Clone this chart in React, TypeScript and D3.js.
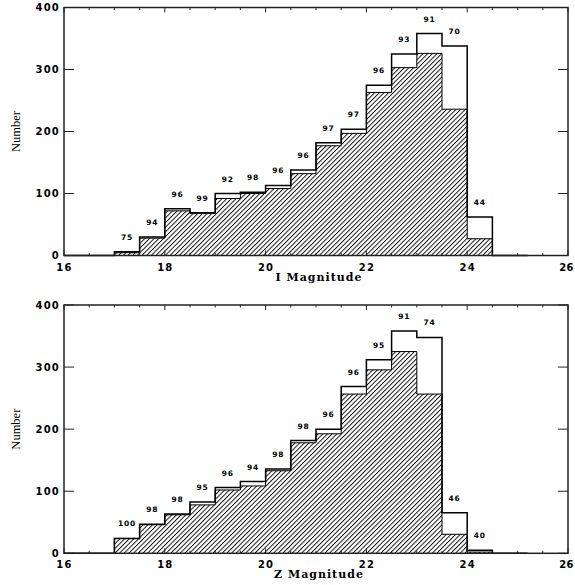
import React from "react";
import * as d3 from "d3";

const binStarts = [17, 17.5, 18, 18.5, 19, 19.5, 20, 20.5, 21, 21.5, 22, 22.5, 23, 23.5, 24];
const binWidth = 0.5;

const iTotal = [6, 30, 75.5, 69, 100, 102, 113, 138, 182, 203.5, 274.5, 325, 358, 338, 62];
const iDetected = [4.5, 28, 72, 68, 92, 100, 108, 132, 177, 197, 263, 303, 326, 236, 27];
const iLabels = ["75", "94", "96", "99", "92", "98", "96", "96", "97", "97", "96", "93", "91", "70", "44"];

const zTotal = [24, 47, 63.4, 82.7, 106, 115.5, 136, 181.6, 200, 268.7, 311.8, 358, 347.8, 65.5, 5];
const zDetected = [24, 46, 62, 78, 102, 108.5, 133, 178, 192.5, 256.5, 295.5, 325, 256.5, 30.6, 2];
const zLabels = ["100", "98", "98", "95", "96", "94", "98", "98", "96", "96", "95", "91", "74", "46", "40"];

const xTicks = [16, 18, 20, 22, 24, 26];
const xMinorTicks = d3.range(16, 26.01, 0.5);
const yTicks = [0, 100, 200, 300, 400];

const X0 = 64;
const X1 = 568;

type PanelProps = {
  yBottom: number;
  yTop: number;
  total: number[];
  detected: number[];
  labels: string[];
  title: string;
  patternId: string;
};

function Panel({ yBottom, yTop, total, detected, labels, title, patternId }: PanelProps) {
  const x = d3.scaleLinear().domain([16, 26]).range([X0, X1]);
  const y = d3.scaleLinear().domain([0, 400]).range([yBottom, yTop]);

  const outerPts: [number, number][] = [[16, 0], ...binStarts.map((b, i) => [b, total[i]] as [number, number]), [24.5, 0], [25.2, 0]];
  const innerPts: [number, number][] = [[17, 0], ...binStarts.map((b, i) => [b, detected[i]] as [number, number]), [24.5, 0]];

  const line = d3
    .line<[number, number]>()
    .x((d) => x(d[0]))
    .y((d) => y(d[1]))
    .curve(d3.curveStepAfter);
  const area = d3
    .area<[number, number]>()
    .x((d) => x(d[0]))
    .y0(y(0))
    .y1((d) => y(d[1]))
    .curve(d3.curveStepAfter);

  const plotH = yBottom - yTop;
  const plotW = X1 - X0;
  const xMajLen = 0.02 * plotH;
  const yMajLen = 0.02 * plotW;

  return (
    <g>
      <defs>
        <pattern id={patternId} patternUnits="userSpaceOnUse" width={3.3} height={10} patternTransform="rotate(45)">
          <line x1={0.5} y1={0} x2={0.5} y2={10} stroke="#000" strokeWidth={0.9} />
        </pattern>
      </defs>
      <path d={area(innerPts) || ""} fill={`url(#${patternId})`} stroke="none" />
      <path d={line(innerPts) || ""} fill="none" stroke="#000" strokeWidth={1} />
      <path d={line(outerPts) || ""} fill="none" stroke="#000" strokeWidth={1.5} />

      {/* frame */}
      <rect x={X0} y={yTop} width={plotW} height={plotH} fill="none" stroke="#222" strokeWidth={1.5} />

      {/* x ticks */}
      {xMinorTicks.map((t) => {
        const isMajor = Math.abs(t / 2 - Math.round(t / 2)) < 1e-6;
        const len = isMajor ? xMajLen : xMajLen / 2;
        return (
          <g key={`xt${t}`}>
            <line x1={x(t)} x2={x(t)} y1={yBottom} y2={yBottom - len} stroke="#222" strokeWidth={1} />
            <line x1={x(t)} x2={x(t)} y1={yTop} y2={yTop + len} stroke="#222" strokeWidth={1} />
          </g>
        );
      })}
      {yTicks.map((t) => (
        <g key={`yt${t}`}>
          <line x1={X0} x2={X0 + yMajLen} y1={y(t)} y2={y(t)} stroke="#222" strokeWidth={1} />
          <line x1={X1} x2={X1 - yMajLen} y1={y(t)} y2={y(t)} stroke="#222" strokeWidth={1} />
        </g>
      ))}

      {/* tick labels */}
      {xTicks.map((t) => (
        <text
          key={`xl${t}`}
          x={t === 26 ? x(t) - 1.5 : x(t) + 0.5}
          y={yBottom + 15}
          textAnchor="middle"
          fontFamily="DejaVu Sans"
          fontWeight="bold"
          fontSize={10}
          letterSpacing={t === 26 ? 0.3 : 1.2}
          fill="#000"
        >
          {t}
        </text>
      ))}
      {yTicks.map((t) => (
        <text
          key={`yl${t}`}
          x={60}
          y={y(t) + 3.6}
          textAnchor="end"
          fontFamily="DejaVu Sans"
          fontWeight="bold"
          fontSize={10}
          letterSpacing={1.2}
          fill="#000"
        >
          {t}
        </text>
      ))}

      {/* bar labels */}
      {binStarts.map((b, i) => (
        <text
          key={`bl${i}`}
          x={x(b + binWidth / 2)}
          y={y(total[i]) - 12}
          textAnchor="middle"
          fontFamily="DejaVu Sans"
          fontWeight="bold"
          fontSize={7.5}
          letterSpacing={0.8}
          fill="#000"
        >
          {labels[i]}
        </text>
      ))}

      {/* axis titles */}
      <text
        x={(X0 + X1) / 2 + 3}
        y={yBottom + 25}
        textAnchor="middle"
        fontFamily="DejaVu Serif"
        fontWeight="bold"
        fontSize={11}
        letterSpacing={1}
        fill="#000"
      >
        {title}
      </text>
      <text
        transform={`translate(20,${(yTop + yBottom) / 2}) rotate(-90)`}
        textAnchor="middle"
        fontFamily="Liberation Serif"
        fontSize={12.5}
        fill="#000"
      >
        Number
      </text>
    </g>
  );
}

export default function App() {
  return (
    <svg
      width={575}
      height={585}
      style={{ position: "absolute", left: 0, top: 0, background: "#fff" }}
    >
      <rect x={0} y={0} width={575} height={585} fill="#fff" />
      <Panel
        yBottom={255.5}
        yTop={7.5}
        total={iTotal}
        detected={iDetected}
        labels={iLabels}
        title="I Magnitude"
        patternId="hatchI"
      />
      <Panel
        yBottom={553.3}
        yTop={305}
        total={zTotal}
        detected={zDetected}
        labels={zLabels}
        title="Z Magnitude"
        patternId="hatchZ"
      />
    </svg>
  );
}
